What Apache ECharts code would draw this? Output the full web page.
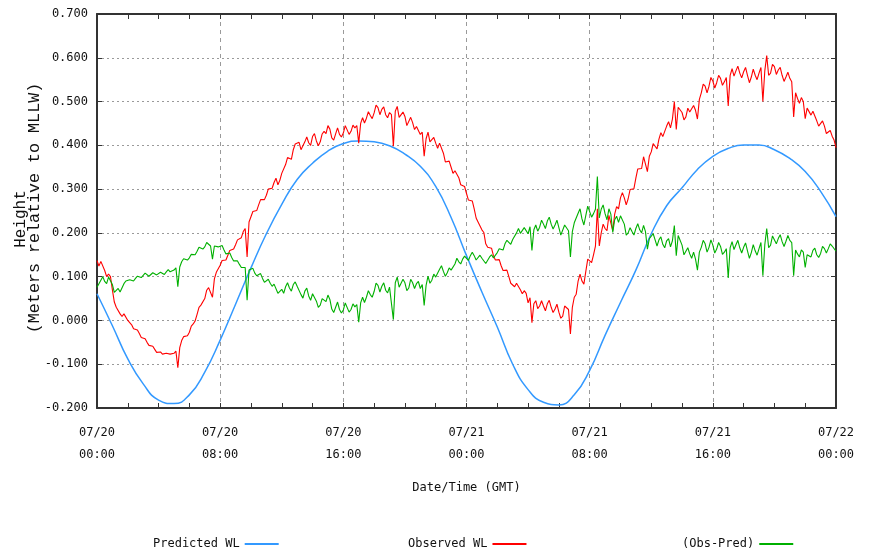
<!DOCTYPE html>
<html>
<head>
<meta charset="utf-8">
<script src="https://cdn.jsdelivr.net/npm/echarts@6/dist/echarts.min.js"></script>
<style>
  html, body { margin: 0; padding: 0; background: #ffffff; }
  #chart { width: 869px; height: 557px; }
</style>
</head>
<body>
<div id="chart"></div>
<script>
// Water level at the station, 07/20 00:00 – 07/22 00:00 GMT, metres relative to MLLW.

// Predicted tide, one value per hour (h = 0 … 48).
const predictedStepHours = 1;
const predictedWL = [
  0.061, -0.012, -0.088, -0.145, -0.182, -0.190, -0.170, -0.118,
  -0.045, 0.037, 0.120, 0.198, 0.265, 0.322, 0.359, 0.387,
  0.404, 0.410, 0.408, 0.399, 0.380, 0.352, 0.306, 0.235,
  0.148, 0.065, -0.015, -0.100, -0.158, -0.187, -0.193, -0.170,
  -0.114, -0.034, 0.041, 0.115, 0.198, 0.262, 0.303, 0.345,
  0.375, 0.393, 0.401, 0.401, 0.390, 0.370, 0.340, 0.295,
  0.237
];

// Observed level and residual, 8 samples per hour (one row = one hour).
const sampleStepHours = 0.125;
const observedWL = [
  0.137, 0.124, 0.135, 0.135, 0.114, 0.100, 0.106, 0.100,
  0.070, 0.042, 0.030, 0.033, 0.015, 0.009, 0.015, 0.012,
  0.000, -0.002, -0.010, -0.019, -0.020, -0.022, -0.030, -0.039,
  -0.042, -0.042, -0.050, -0.057, -0.058, -0.059, -0.066, -0.073,
  -0.076, -0.072, -0.077, -0.080, -0.075, -0.071, -0.077, -0.079,
  -0.075, -0.070, -0.108, -0.062, -0.046, -0.037, -0.035, -0.035,
  -0.027, -0.013, -0.008, -0.001, 0.014, 0.030, 0.035, 0.039,
  0.050, 0.069, 0.075, 0.076, 0.053, 0.095, 0.110, 0.114,
  0.126, 0.137, 0.137, 0.138, 0.149, 0.160, 0.160, 0.163,
  0.173, 0.184, 0.186, 0.189, 0.203, 0.210, 0.145, 0.225,
  0.237, 0.249, 0.248, 0.251, 0.264, 0.276, 0.275, 0.276,
  0.286, 0.300, 0.300, 0.302, 0.315, 0.325, 0.310, 0.320,
  0.336, 0.334, 0.356, 0.372, 0.368, 0.368, 0.390, 0.403,
  0.400, 0.407, 0.390, 0.387, 0.408, 0.419, 0.406, 0.400,
  0.420, 0.427, 0.410, 0.399, 0.408, 0.426, 0.432, 0.427,
  0.445, 0.437, 0.417, 0.412, 0.426, 0.440, 0.425, 0.419,
  0.428, 0.445, 0.446, 0.425, 0.432, 0.446, 0.440, 0.445,
  0.405, 0.450, 0.463, 0.451, 0.462, 0.477, 0.468, 0.461,
  0.474, 0.492, 0.486, 0.470, 0.482, 0.488, 0.470, 0.463,
  0.475, 0.470, 0.398, 0.478, 0.489, 0.464, 0.462, 0.476,
  0.466, 0.445, 0.447, 0.464, 0.452, 0.436, 0.443, 0.444,
  0.425, 0.430, 0.375, 0.415, 0.430, 0.408, 0.410, 0.418,
  0.405, 0.393, 0.405, 0.404, 0.382, 0.362, 0.362, 0.364,
  0.350, 0.336, 0.342, 0.344, 0.326, 0.310, 0.310, 0.306,
  0.290, 0.275, 0.275, 0.273, 0.255, 0.234, 0.225, 0.224,
  0.207, 0.201, 0.175, 0.167, 0.170, 0.165, 0.148, 0.138,
  0.140, 0.139, 0.125, 0.114, 0.117, 0.115, 0.100, 0.085,
  0.085, 0.077, 0.085, 0.088, 0.070, 0.061, 0.068, 0.062,
  0.040, 0.052, -0.005, 0.038, 0.045, 0.027, 0.033, 0.045,
  0.033, 0.022, 0.038, 0.046, 0.030, 0.018, 0.026, 0.037,
  0.019, 0.005, 0.010, 0.033, 0.036, 0.025, -0.031, 0.030,
  0.053, 0.060, 0.090, 0.106, 0.090, 0.083, 0.112, 0.140,
  0.144, 0.132, 0.150, 0.170, 0.255, 0.170, 0.200, 0.220,
  0.210, 0.205, 0.240, 0.238, 0.205, 0.243, 0.260, 0.255,
  0.280, 0.292, 0.280, 0.264, 0.278, 0.299, 0.300, 0.301,
  0.325, 0.346, 0.343, 0.347, 0.374, 0.370, 0.340, 0.375,
  0.385, 0.404, 0.398, 0.392, 0.414, 0.429, 0.420, 0.420,
  0.444, 0.454, 0.440, 0.460, 0.500, 0.436, 0.487, 0.491,
  0.475, 0.458, 0.465, 0.485, 0.476, 0.472, 0.491, 0.480,
  0.460, 0.505, 0.520, 0.540, 0.535, 0.520, 0.535, 0.555,
  0.547, 0.531, 0.543, 0.560, 0.553, 0.537, 0.545, 0.555,
  0.490, 0.560, 0.575, 0.558, 0.570, 0.581, 0.565, 0.554,
  0.568, 0.578, 0.560, 0.543, 0.556, 0.574, 0.560, 0.550,
  0.565, 0.578, 0.500, 0.570, 0.605, 0.560, 0.565, 0.585,
  0.580, 0.562, 0.572, 0.578, 0.560, 0.546, 0.556, 0.567,
  0.553, 0.545, 0.465, 0.520, 0.507, 0.496, 0.509, 0.500,
  0.461, 0.485, 0.483, 0.469, 0.478, 0.477, 0.456, 0.444,
  0.448, 0.456, 0.444, 0.427, 0.430, 0.434, 0.421, 0.412,
  0.395
];

const obsMinusPred = [
  0.076, 0.072, 0.092, 0.100, 0.089, 0.084, 0.099, 0.102,
  0.082, 0.064, 0.061, 0.073, 0.065, 0.069, 0.084, 0.090,
  0.088, 0.093, 0.092, 0.090, 0.096, 0.101, 0.100, 0.098,
  0.103, 0.108, 0.104, 0.101, 0.105, 0.109, 0.107, 0.104,
  0.106, 0.110, 0.107, 0.105, 0.111, 0.116, 0.111, 0.110,
  0.115, 0.120, 0.077, 0.122, 0.134, 0.141, 0.140, 0.138,
  0.143, 0.151, 0.149, 0.150, 0.158, 0.167, 0.166, 0.163,
  0.168, 0.178, 0.175, 0.170, 0.140, 0.170, 0.173, 0.168,
  0.171, 0.171, 0.161, 0.152, 0.153, 0.154, 0.144, 0.136,
  0.136, 0.136, 0.128, 0.121, 0.125, 0.121, 0.046, 0.115,
  0.117, 0.119, 0.108, 0.102, 0.105, 0.107, 0.096, 0.087,
  0.088, 0.094, 0.085, 0.078, 0.083, 0.085, 0.062, 0.064,
  0.071, 0.062, 0.077, 0.086, 0.074, 0.067, 0.082, 0.088,
  0.078, 0.081, 0.059, 0.051, 0.067, 0.074, 0.056, 0.046,
  0.061, 0.065, 0.044, 0.030, 0.035, 0.050, 0.052, 0.043,
  0.058, 0.048, 0.026, 0.018, 0.030, 0.042, 0.025, 0.017,
  0.024, 0.040, 0.040, 0.019, 0.025, 0.038, 0.031, 0.036,
  -0.004, 0.040, 0.053, 0.041, 0.053, 0.068, 0.059, 0.053,
  0.066, 0.085, 0.080, 0.065, 0.078, 0.086, 0.069, 0.063,
  0.076, 0.074, 0.002, 0.086, 0.099, 0.076, 0.077, 0.094,
  0.086, 0.068, 0.074, 0.094, 0.086, 0.073, 0.084, 0.089,
  0.073, 0.082, 0.034, 0.080, 0.101, 0.085, 0.092, 0.106,
  0.099, 0.096, 0.117, 0.125, 0.112, 0.101, 0.109, 0.120,
  0.115, 0.112, 0.129, 0.142, 0.134, 0.129, 0.140, 0.147,
  0.142, 0.137, 0.148, 0.156, 0.148, 0.138, 0.139, 0.149,
  0.142, 0.146, 0.130, 0.132, 0.145, 0.150, 0.143, 0.143,
  0.155, 0.164, 0.161, 0.161, 0.175, 0.183, 0.179, 0.174,
  0.185, 0.185, 0.200, 0.210, 0.199, 0.198, 0.212, 0.213,
  0.198, 0.214, 0.160, 0.207, 0.218, 0.204, 0.213, 0.229,
  0.220, 0.210, 0.227, 0.236, 0.220, 0.209, 0.218, 0.229,
  0.212, 0.195, 0.197, 0.218, 0.218, 0.205, 0.145, 0.203,
  0.223, 0.222, 0.245, 0.255, 0.232, 0.218, 0.240, 0.261,
  0.258, 0.236, 0.244, 0.254, 0.329, 0.234, 0.254, 0.264,
  0.244, 0.230, 0.255, 0.243, 0.201, 0.230, 0.238, 0.224,
  0.239, 0.242, 0.220, 0.195, 0.200, 0.212, 0.203, 0.195,
  0.210, 0.221, 0.207, 0.200, 0.217, 0.203, 0.163, 0.187,
  0.187, 0.198, 0.184, 0.170, 0.184, 0.191, 0.174, 0.166,
  0.182, 0.187, 0.168, 0.182, 0.217, 0.148, 0.194, 0.193,
  0.172, 0.150, 0.151, 0.166, 0.152, 0.142, 0.156, 0.140,
  0.115, 0.156, 0.167, 0.183, 0.175, 0.156, 0.167, 0.184,
  0.172, 0.154, 0.163, 0.178, 0.169, 0.151, 0.156, 0.164,
  0.097, 0.166, 0.180, 0.162, 0.173, 0.183, 0.166, 0.154,
  0.167, 0.177, 0.159, 0.142, 0.155, 0.173, 0.159, 0.149,
  0.164, 0.178, 0.102, 0.173, 0.210, 0.166, 0.172, 0.193,
  0.190, 0.175, 0.187, 0.196, 0.180, 0.169, 0.181, 0.194,
  0.183, 0.178, 0.102, 0.161, 0.152, 0.145, 0.161, 0.156,
  0.121, 0.150, 0.154, 0.145, 0.160, 0.165, 0.150, 0.144,
  0.153, 0.169, 0.164, 0.154, 0.164, 0.175, 0.170, 0.168,
  0.158
];

// Tick labels every 8 hours along the time axis.
const timeTickLabels = [
  '07/20\n00:00', '07/20\n08:00', '07/20\n16:00',
  '07/21\n00:00', '07/21\n08:00', '07/21\n16:00',
  '07/22\n00:00'
];

const seriesNames = ['Predicted WL', 'Observed WL', '(Obs-Pred)'];
const seriesColors = ['#3399ff', '#ff0000', '#00b000'];
const yTitleMain = 'Height';
const yTitleSub = '(Meters relative to MLLW)';
const xTitle = 'Date/Time (GMT)';

const toPairs = (values, step) => values.map((v, i) => [i * step, v]);

const monoFont = 'DejaVu Sans Mono';
const titleFont = 'Liberation Mono';
const textColor = '#111111';
const frameColor = '#333333';
const gridColor = '#9a9a9a';

const chart = echarts.init(document.getElementById('chart'), null, { renderer: 'canvas' });

const legendCommon = {
  orient: 'horizontal',
  top: 538,
  padding: 0,
  align: 'right',
  icon: 'rect',
  itemWidth: 34,
  itemHeight: 2,
  selectedMode: false,
  textStyle: { fontFamily: monoFont, fontSize: 12, color: textColor }
};

const frameAxisLine = { show: true, onZero: false, lineStyle: { color: frameColor, width: 2 } };
const innerTick = { show: true, inside: true, length: 5, lineStyle: { color: frameColor, width: 1 } };
const innerMinorTick = { show: true, splitNumber: 4, length: 5, lineStyle: { color: frameColor, width: 1 } };

// Two-line vertical title: both lines drawn as rotated text beside the value axis.
const yTitleStyle = (text, size) => ({
  text: text, fill: textColor,
  font: size + 'px "' + titleFont + '"',
  align: 'center', verticalAlign: 'middle'
});

chart.setOption({
  animation: false,
  backgroundColor: '#ffffff',
  grid: { left: 97, right: 33, top: 14, bottom: 149, containLabel: false },
  legend: [
    Object.assign({ data: [seriesNames[0]], left: 153 }, legendCommon),
    Object.assign({ data: [seriesNames[1]], left: 408 }, legendCommon),
    Object.assign({ data: [seriesNames[2]], left: 682 }, legendCommon)
  ],
  graphic: [
    { type: 'text', x: 21, y: 219, rotation: Math.PI / 2, silent: true, style: yTitleStyle(yTitleMain, 16) },
    { type: 'text', x: 35, y: 208, rotation: Math.PI / 2, silent: true, style: yTitleStyle(yTitleSub, 16.7) }
  ],
  xAxis: [
    {
      type: 'value', position: 'bottom', min: 0, max: 48, interval: 8,
      axisLine: frameAxisLine, axisTick: innerTick, minorTick: innerMinorTick,
      axisLabel: {
        formatter: v => timeTickLabels[Math.round(v / 8)] || '',
        margin: 14, lineHeight: 22,
        fontFamily: monoFont, fontSize: 12, color: textColor
      },
      splitLine: { show: true, lineStyle: { color: gridColor, width: 1, type: [4, 4] } },
      minorSplitLine: { show: false },
      name: xTitle, nameLocation: 'middle', nameGap: 73,
      nameTextStyle: { fontFamily: monoFont, fontSize: 12, color: textColor, lineHeight: 14 }
    },
    {
      type: 'value', position: 'top', min: 0, max: 48, interval: 8,
      axisLine: frameAxisLine, axisTick: innerTick, minorTick: innerMinorTick,
      axisLabel: { show: false },
      splitLine: { show: false }
    }
  ],
  yAxis: [
    {
      type: 'value', position: 'left', min: -0.2, max: 0.7, interval: 0.1,
      axisLine: frameAxisLine, axisTick: innerTick,
      axisLabel: {
        formatter: v => v.toFixed(3),
        margin: 9, fontFamily: monoFont, fontSize: 12, color: textColor
      },
      splitLine: { show: true, lineStyle: { color: gridColor, width: 1, type: [2, 3] } }
    },
    {
      type: 'value', position: 'right', min: -0.2, max: 0.7, interval: 0.1,
      axisLine: frameAxisLine, axisTick: innerTick,
      axisLabel: { show: false },
      splitLine: { show: false }
    }
  ],
  series: [
    {
      name: seriesNames[0], type: 'line', xAxisIndex: 0, yAxisIndex: 0,
      data: toPairs(predictedWL, predictedStepHours),
      smooth: true, showSymbol: false, symbol: 'none',
      color: seriesColors[0], lineStyle: { width: 1.5, color: seriesColors[0] }
    },
    {
      name: seriesNames[1], type: 'line', xAxisIndex: 0, yAxisIndex: 0,
      data: toPairs(observedWL, sampleStepHours),
      showSymbol: false, symbol: 'none',
      color: seriesColors[1], lineStyle: { width: 1.1, color: seriesColors[1] }
    },
    {
      name: seriesNames[2], type: 'line', xAxisIndex: 0, yAxisIndex: 0,
      data: toPairs(obsMinusPred, sampleStepHours),
      showSymbol: false, symbol: 'none',
      color: seriesColors[2], lineStyle: { width: 1.1, color: seriesColors[2] }
    }
  ]
});
</script>
</body>
</html>
